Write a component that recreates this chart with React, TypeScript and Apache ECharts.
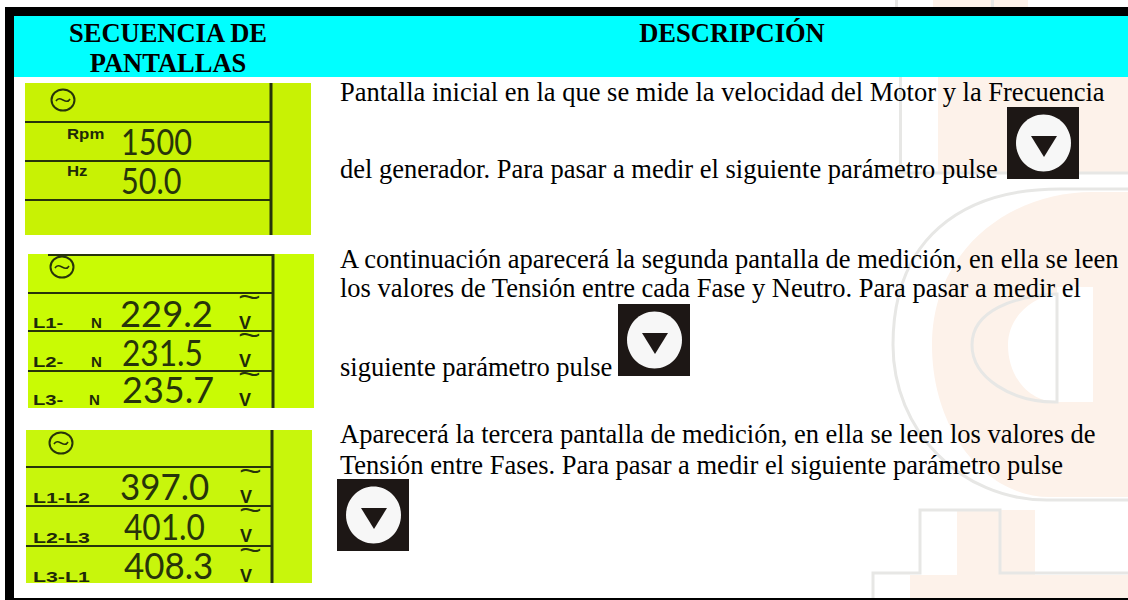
import React, { useEffect, useRef } from "react";
import * as echarts from "echarts";

const HEADER_LEFT = ["SECUENCIA DE", "PANTALLAS"];
const HEADER_RIGHT = "DESCRIPCIÓN";
const BODY_LINES = [
  "Pantalla inicial en la que se mide la velocidad del Motor y la Frecuencia",
  "del generador. Para pasar a medir el siguiente parámetro pulse",
  "A continuación aparecerá la segunda pantalla de medición, en ella se leen",
  "los valores de Tensión entre cada Fase y Neutro. Para pasar a medir el",
  "siguiente parámetro pulse",
  "Aparecerá la tercera pantalla de medición, en ella se leen los valores de",
  "Tensión entre Fases. Para pasar a medir el siguiente parámetro pulse",
];
const SCREEN1_LABELS = ["Rpm", "Hz"];
const SCREEN1_VALUES = ["1500", "50.0"];
const SCREEN2_LABELS = ["L1-", "L2-", "L3-"];
const SCREEN2_NEUTRAL = ["N", "N", "N"];
const SCREEN2_VALUES = ["229.2", "231.5", "235.7"];
const SCREEN3_LABELS = ["L1-L2", "L2-L3", "L3-L1"];
const SCREEN3_VALUES = ["397.0", "401.0", "408.3"];
const UNIT = "V";
const TILDE = "~";

const ORANGE_D =
  "M1128 192 L1092 192 C1010 192 932 250 932 345 C932 430 985 497 1050 497 L1128 497 Z " +
  "M1093 287 L1093 402 L1057 402 C1030 402 1008 378 1008 345 C1008 318 1030 298 1057 293 L1057 287 Z";
const GRAY_OUTER =
  "M1128 189 L1060 189 C960 189 893 240 893 345 C893 430 960 500 1047 500 L1128 500";
const GRAY_INNER = "M1057 294 C1015 296 972 310 972 345 C972 378 1012 402 1055 402 L1057 402 Z";

echarts.graphic.registerShape("wmOrange", echarts.graphic.extendPath(ORANGE_D, {}));
echarts.graphic.registerShape("wmOuter", echarts.graphic.extendPath(GRAY_OUTER, {}));
echarts.graphic.registerShape("wmInner", echarts.graphic.extendPath(GRAY_INNER, {}));

const SERIF = '"Liberation Serif"';
const SANS = '"Liberation Sans"';
const LCD_FONT = "Lato";
const LCD_INK = "#27340a";
const WM_ORANGE = "#fdf2ea";
const WM_GRAY = "#e7e7e5";

const rect = (x: number, y: number, w: number, h: number, fill: string) => ({
  type: "rect",
  shape: { x, y, width: w, height: h },
  style: { fill },
  silent: true,
});

const text = (
  s: string,
  x: number,
  baseline: number,
  size: number,
  opts: any = {},
) => ({
  type: "text",
  x,
  y: baseline - size * 0.3,
  scaleX: opts.scaleX ?? 1,
  style: {
    text: s,
    fontFamily: opts.font ?? SERIF,
    fontSize: size,
    fontWeight: opts.weight ?? "normal",
    fill: opts.fill ?? "#000",
    textAlign: opts.align ?? "left",
    textVerticalAlign: "middle",
    verticalAlign: "middle",
  },
  silent: true,
});

const button = (x: number, y: number) => [
  rect(x, y, 72, 72, "#1d1715"),
  {
    type: "ellipse",
    shape: { cx: x + 36.5, cy: y + 36, rx: 27.5, ry: 28.5 },
    style: { fill: "#f7f7f7" },
    silent: true,
  },
  {
    type: "polygon",
    shape: {
      points: [
        [x + 24, y + 29],
        [x + 50, y + 29],
        [x + 37, y + 50],
      ],
    },
    style: { fill: "#1d1715" },
    silent: true,
  },
];

const lcdLine = (x1: number, y1: number, x2: number, y2: number, w: number) => ({
  type: "line",
  shape: { x1, y1, x2, y2 },
  style: { stroke: LCD_INK, lineWidth: w },
  silent: true,
});

const acIcon = (cx: number, cy: number) => [
  {
    type: "ellipse",
    shape: { cx, cy, rx: 11.5, ry: 10.5 },
    style: { fill: "none", stroke: LCD_INK, lineWidth: 2 },
    silent: true,
  },
  {
    type: "bezierCurve",
    shape: { x1: cx - 7, y1: cy + 1, cpx1: cx - 3, cpy1: cy - 6, cpx2: cx + 3, cpy2: cy + 6, x2: cx + 7, y2: cy - 1 },
    style: { fill: "none", stroke: LCD_INK, lineWidth: 1.6 },
    silent: true,
  },
];

const digits = (s: string, x: number, baseline: number, scaleX: number) =>
  text(s, x, baseline - 3.5, 36, { font: LCD_FONT, weight: 400, fill: LCD_INK, scaleX });

const label = (s: string, x: number, baseline: number, size: number, scaleX: number) =>
  text(s, x, baseline, size, { font: SANS, weight: "bold", fill: "#1f2a08", scaleX });

const unit = (x: number, baseline: number) => [
  text(TILDE, x - 1, baseline - 22, 30, { font: SANS, fill: LCD_INK, scaleX: 1.3 }),
  text(UNIT, x, baseline, 18, { font: SANS, weight: "bold", fill: "#1f2a08" }),
];

function buildGraphics() {
  const els: any[] = [];
  // watermark
  els.push(rect(933, 0, 95, 7, WM_ORANGE));
  els.push(rect(895, 0, 3, 7, WM_GRAY));
  els.push(rect(991, 0, 3, 7, WM_GRAY));
  els.push(rect(938, 77, 190, 95, WM_ORANGE));
  els.push(rect(899, 77, 3, 95, WM_GRAY));
  els.push(rect(899, 171.5, 229, 3, WM_GRAY));
  els.push({ type: "wmOrange", style: { fill: WM_ORANGE }, silent: true });
  els.push({ type: "wmOuter", style: { fill: "none", stroke: WM_GRAY, lineWidth: 3 }, silent: true });
  els.push({ type: "wmInner", style: { fill: "none", stroke: WM_GRAY, lineWidth: 3 }, silent: true });
  els.push(rect(957, 510, 78, 65, WM_ORANGE));
  els.push(rect(910, 575, 218, 23, WM_ORANGE));
  els.push({
    type: "polyline",
    shape: {
      points: [
        [873, 598],
        [873, 573],
        [920, 573],
        [920, 510],
        [1000, 510],
        [1000, 573],
        [1128, 573],
      ],
    },
    style: { fill: "none", stroke: WM_GRAY, lineWidth: 3 },
    silent: true,
  });

  // frame and header
  els.push(rect(14, 16, 1114, 61, "#00ffff"));
  els.push(rect(5, 7, 1123, 9, "#000"));
  els.push(rect(5, 7, 9, 593, "#000"));
  els.push(rect(14, 598, 1114, 2, "#000"));
  els.push(text(HEADER_LEFT[0], 168, 41, 26.5, { weight: "bold", align: "center" }));
  els.push(text(HEADER_LEFT[1], 168, 71, 26.5, { weight: "bold", align: "center" }));
  els.push(text(HEADER_RIGHT, 732, 41, 26.5, { weight: "bold", align: "center" }));

  // description
  const baselines = [100, 177, 267, 296, 375, 442, 473];
  BODY_LINES.forEach((l, i) => els.push(text(l, 340, baselines[i], 26.5)));
  els.push(...button(1007, 107), ...button(618, 304), ...button(337, 479));

  // screen 1
  els.push(rect(25, 83, 286, 152, "#c8f204"));
  [122, 161, 200].forEach((y) => els.push(lcdLine(25, y, 271, y, 2)));
  els.push(lcdLine(271, 83, 271, 235, 3));
  els.push(...acIcon(63, 100));
  SCREEN1_LABELS.forEach((l, i) => els.push(label(l, 67, [138, 175][i], 14, 1.2)));
  SCREEN1_VALUES.forEach((v, i) => els.push(digits(v, 121, [155, 194][i], 0.85)));

  // screen 2
  els.push(rect(28, 254, 286, 154, "#c9fb04"));
  els.push(lcdLine(48, 255, 273, 255, 2));
  [293, 331, 371].forEach((y) => els.push(lcdLine(28, y, 273, y, 2)));
  els.push(lcdLine(273, 254, 273, 408, 3));
  els.push(...acIcon(62, 267));
  SCREEN2_LABELS.forEach((l, i) => els.push(label(l, 33, [327, 366, 404][i], 15, 1.35)));
  SCREEN2_NEUTRAL.forEach((l, i) => els.push(label(l, [91, 91, 89][i], [327, 366, 404][i], 15, 1)));
  SCREEN2_VALUES.forEach((v, i) => {
    els.push(digits(v, [120, 122, 122][i], [327, 366, 403][i], [1.01, 0.88, 1.0][i]));
    els.push(...unit(239, [328, 366, 405][i]));
  });

  // screen 3
  els.push(rect(26, 430, 286, 153, "#c8f60c"));
  [467, 506, 546].forEach((y) => els.push(lcdLine(26, y, 272, y, 2)));
  els.push(lcdLine(272, 430, 272, 583, 3));
  els.push(...acIcon(61, 443));
  SCREEN3_LABELS.forEach((l, i) => els.push(label(l, 33, [502, 542, 581][i], 15, 1.42)));
  SCREEN3_VALUES.forEach((v, i) => {
    els.push(digits(v, [120, 124, 124][i], [501, 540, 580][i], [0.97, 0.88, 0.97][i]));
    els.push(...unit(240, [502, 541, 581][i]));
  });
  return els;
}

export default function App() {
  const ref = useRef<HTMLDivElement>(null);
  useEffect(() => {
    const chart = echarts.init(ref.current!, undefined, { renderer: "svg" });
    chart.setOption({
      animation: false,
      backgroundColor: "#ffffff",
      graphic: { elements: buildGraphics() },
    });
    return () => chart.dispose();
  }, []);
  return (
    <div
      ref={ref}
      style={{ position: "absolute", left: 0, top: 0, width: 1128, height: 600 }}
    />
  );
}
